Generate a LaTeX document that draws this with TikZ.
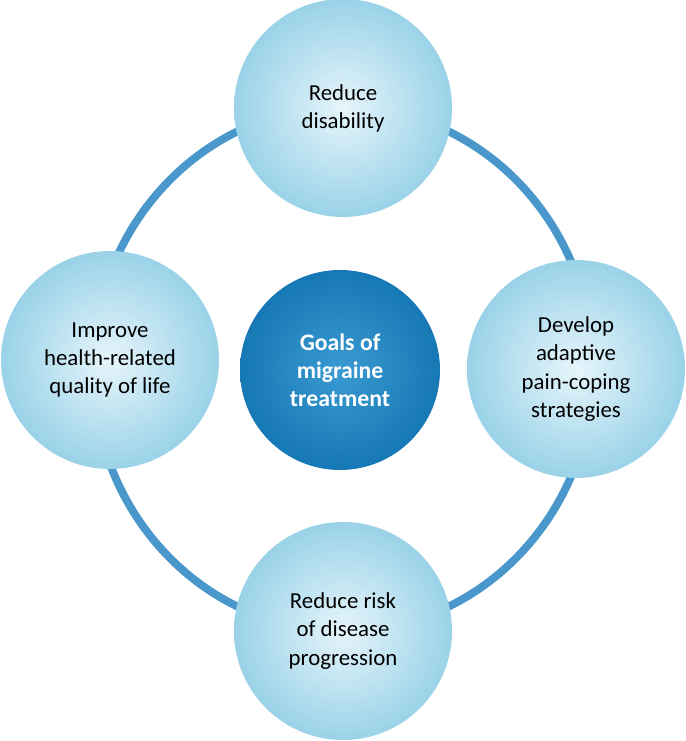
\documentclass[tikz,border=0pt]{standalone}
\usepackage{fontspec}
\setmainfont{Carlito}
\definecolor{ringblue}{HTML}{4A97CC}
\definecolor{paleblue}{HTML}{E6F5FB}
\definecolor{edgeblue}{HTML}{9AD2E8}
\definecolor{deepblue}{HTML}{1678B4}
\definecolor{midblue}{HTML}{3A9AD2}
\begin{document}
\begin{tikzpicture}
	\tikzset{
		goal/.style={circle, minimum size=4.36cm, inner color=paleblue, outer color=edgeblue,
			align=center, font=\fontsize{13}{16}\selectfont, text=black},
		hub/.style={circle, minimum size=4.0cm, inner color=midblue, outer color=deepblue,
			align=center, font=\bfseries\fontsize{13.5}{16}\selectfont, text=white}
	}
	\useasboundingbox (0,0) rectangle (13.7,14.82);

	% Ring behind the circles
	\draw[ringblue, line width=4.5pt] (6.86,7.44) ellipse (5.0cm and 5.24cm);

	% Circles
	\node[hub] (H) at (6.8,7.42) {Goals of\\migraine\\treatment};
	\node[goal] (T) at (6.86,12.66) {Reduce\\disability};
	\node[goal] (R) at (11.52,7.44) {Develop\\adaptive\\pain-coping\\strategies};
	\node[goal] (B) at (6.86,2.2) {Reduce risk\\of disease\\progression};
	\node[goal] (L) at (2.2,7.62) {Improve\\health-related\\quality of life};
\end{tikzpicture}
\end{document}
